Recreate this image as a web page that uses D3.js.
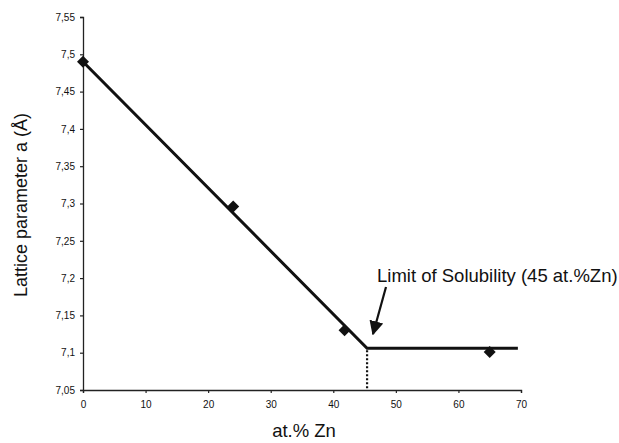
<!DOCTYPE html>
<html>
<head>
<meta charset="utf-8">
<script src="https://cdn.jsdelivr.net/npm/d3@7"></script>
<style>
  body { margin: 0; background: #fff; }
  svg text { font-family: "Liberation Sans", Arial, sans-serif; fill: #111; }
</style>
</head>
<body>
<div id="chart"></div>
<script>
// data
var zinc = [0, 24, 41.8, 65];
var latticeA = [7.49, 7.296, 7.13, 7.101];
var fitX = [0, 45.4, 69.5];
var fitY = [7.49, 7.106, 7.106];
var xTicks = [0, 10, 20, 30, 40, 50, 60, 70];
var yTicks = [7.05, 7.1, 7.15, 7.2, 7.25, 7.3, 7.35, 7.4, 7.45, 7.5, 7.55];
var limitText = "Limit of Solubility (45 at.%Zn)";

var width = 619, height = 443;
var margin = {top: 17, right: 98, bottom: 53, left: 83};

var svg = d3.select("#chart").append("svg")
    .attr("width", width)
    .attr("height", height);

var x = d3.scaleLinear().domain([0, 70]).range([margin.left, width - margin.right]);
var y = d3.scaleLinear().domain([7.05, 7.55]).range([height - margin.bottom, margin.top]);

var comma = function(d) { return String(+d.toFixed(2)).replace(".", ","); };

// axes
var xAxis = svg.append("g")
    .attr("transform", "translate(0," + y(7.05) + ")")
    .call(d3.axisBottom(x).tickValues(xTicks).tickSize(3).tickPadding(8).tickFormat(d3.format("d")));
var yAxis = svg.append("g")
    .attr("transform", "translate(" + x(0) + ",0)")
    .call(d3.axisLeft(y).tickValues(yTicks).tickSize(3).tickPadding(5).tickFormat(comma));

[xAxis, yAxis].forEach(function(g) {
  g.select(".domain").attr("stroke", "#222").attr("stroke-width", 1.3);
  g.selectAll(".tick line").attr("stroke", "#222").attr("stroke-width", 1.2);
  g.selectAll("text").style("font-size", "10px").attr("fill", "#222");
});

// fitted line
var line = d3.line()
    .x(function(d) { return x(d[0]); })
    .y(function(d) { return y(d[1]); });

svg.append("path")
    .datum(d3.zip(fitX, fitY))
    .attr("d", line)
    .attr("fill", "none")
    .attr("stroke", "#111")
    .attr("stroke-width", 3);

// dotted drop line at the solubility limit
svg.append("line")
    .attr("x1", x(fitX[1])).attr("x2", x(fitX[1]))
    .attr("y1", y(fitY[1]) + 2).attr("y2", y(7.05))
    .attr("stroke", "#111")
    .attr("stroke-width", 2.2)
    .attr("stroke-dasharray", "2,2");

// measured points (square diamonds)
svg.selectAll(".pt")
    .data(d3.zip(zinc, latticeA))
    .enter().append("path")
    .attr("class", "pt")
    .attr("transform", function(d) { return "translate(" + x(d[0]) + "," + y(d[1]) + ") rotate(45)"; })
    .attr("d", d3.symbol().type(d3.symbolSquare).size(72))
    .attr("fill", "#111");

// annotation
svg.append("text")
    .attr("x", 377)
    .attr("y", 282)
    .style("font-size", "18.5px")
    .text(limitText);

svg.append("defs").append("marker")
    .attr("id", "head")
    .attr("viewBox", "0 0 10 10")
    .attr("refX", 9).attr("refY", 5)
    .attr("markerWidth", 6.5).attr("markerHeight", 6.5)
    .attr("markerUnits", "strokeWidth")
    .attr("orient", "auto")
    .append("path")
    .attr("d", "M0,0 L10,5 L0,10 z")
    .attr("fill", "#111");

svg.append("line")
    .attr("x1", 386).attr("y1", 287)
    .attr("x2", 373).attr("y2", 334)
    .attr("stroke", "#111")
    .attr("stroke-width", 2.2)
    .attr("marker-end", "url(#head)");

// axis titles
svg.append("text")
    .attr("x", 304)
    .attr("y", 437)
    .attr("text-anchor", "middle")
    .style("font-size", "18.5px")
    .text("at.% Zn");

svg.append("text")
    .attr("transform", "translate(27,205) rotate(-90)")
    .attr("text-anchor", "middle")
    .style("font-size", "18px")
    .text("Lattice parameter a  (Å)");
</script>
</body>
</html>
